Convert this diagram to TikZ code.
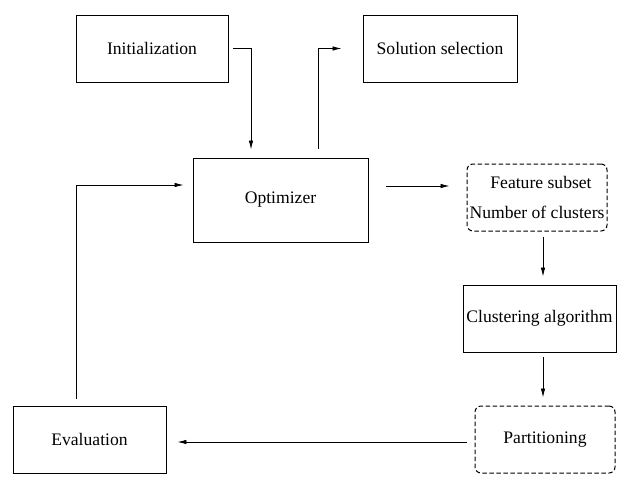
\documentclass[tikz,border=0pt]{standalone}
\usepackage{fontspec}
\setmainfont{Liberation Serif}
\usetikzlibrary{arrows.meta}

\begin{document}
\begin{tikzpicture}[x=1pt,y=-1pt,
  every node/.style={font=\fontsize{17.6}{30}\selectfont,inner sep=0pt},
  sz/.style 2 args={minimum width=#1pt,minimum height=#2pt},
  blk/.style={draw,line width=0.9pt},
  dblk/.style={draw,line width=1pt,dash pattern=on 4.5pt off 2.5pt,rounded corners=6pt},
  arr/.style={line width=0.8pt,-{Latex[length=9pt,width=4.5pt]}}]
\useasboundingbox (0,0) rectangle (623,477);
%\draw[help lines,step=50](0,0)grid(623,477);
\node[blk,sz={152}{67}] (init) at (152,48.5) {Initialization};
\node[blk,sz={154}{67}] (sol) at (440,48.5) {Solution selection};
\node[blk,sz={175}{84}] (opt) at (280.5,200) {Optimizer};
\node[dblk,sz={140}{67},align=center] (feat) at (537,197.5) {\hspace*{8pt}Feature subset\\Number of clusters};
\node[blk,sz={153}{67}] (clust) at (539.5,318.5) {Clustering algorithm};
\node[dblk,sz={140}{67}] (part) at (545,439.5) {Partitioning};
\node[blk,sz={153}{67}] (eval) at (89.5,439.5) {Evaluation};
% connectors
\draw[arr] ([xshift=5pt]init.east) -| ([xshift=-29.5pt,yshift=8pt]opt.north);
\draw[arr] ([xshift=37.5pt,yshift=9pt]opt.north) |- ([xshift=-21pt]sol.west);
\draw[arr] ([xshift=18pt,yshift=14pt]opt.east) -- ([xshift=-17pt,yshift=11.5pt]feat.west);
\draw[arr] ([xshift=6pt,yshift=-5pt]feat.south) -- ([xshift=3.5pt,yshift=8pt]clust.north);
\draw[arr] ([xshift=3.5pt,yshift=-5pt]clust.south) -- ([xshift=-2pt,yshift=8pt]part.north);
\draw[arr] ([xshift=-8pt,yshift=-2.5pt]part.west) -- ([xshift=11pt,yshift=-2.5pt]eval.east);
\draw[arr] ([xshift=-13.5pt,yshift=7pt]eval.north) |- ([xshift=-9pt,yshift=15pt]opt.west);
\end{tikzpicture}
\end{document}
